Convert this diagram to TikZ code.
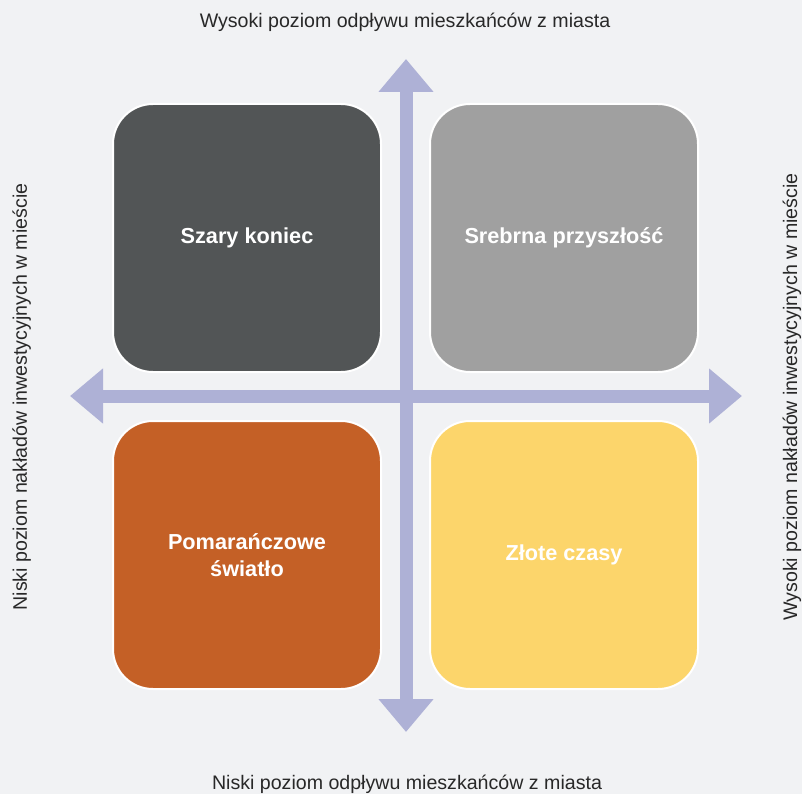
\documentclass[tikz,border=0pt]{standalone}
\usepackage{fontspec}
\setmainfont{Liberation Sans}
\usepackage{xcolor}
\usetikzlibrary{arrows.meta,positioning}
\definecolor{bgcolor}{RGB}{241,242,244}
\definecolor{axiscolor}{RGB}{174,177,214}
\definecolor{darkgraycolor}{RGB}{82,85,86}
\definecolor{lightgraycolor}{RGB}{160,160,160}
\definecolor{orangecolor}{RGB}{196,96,38}
\definecolor{goldcolor}{RGB}{252,213,107}
\definecolor{labelcolor}{RGB}{40,40,40}

\begin{document}
\begin{tikzpicture}[
    x=1pt, y=-1pt,
    node distance=49pt,
    quad/.style={rectangle, draw=white, line width=2pt, rounded corners=40pt, minimum width=268pt, minimum height=268pt, outer sep=0pt, text=white, align=center, font=\fontsize{21.7}{27}\selectfont\bfseries},
    axis/.style={{Triangle[length=33pt,width=53pt]}-{Triangle[length=33pt,width=53pt]}, line width=13pt, draw=axiscolor},
    axislabel/.style={font=\fontsize{19.6}{23}\selectfont, text=labelcolor, inner sep=0pt, anchor=base}
]
\fill[bgcolor] (0,0) rectangle (802,794);
\useasboundingbox (0,0) rectangle (802,794);

\coordinate (top) at (406,59);
\coordinate (bottom) at (406,732);
\coordinate (left) at (70,396);
\coordinate (right) at (742,396);

\draw[axis] (left) -- (right);
\draw[axis] (bottom) -- (top);

\node[quad, fill=darkgraycolor] (szary) at (247,238) {Szary koniec};
\node[quad, fill=lightgraycolor, right=of szary] (srebrna) {Srebrna przyszłość};
\node[quad, fill=orangecolor, below=of szary] (pomaranczowe) {Pomarańczowe\\światło};
\node[quad, fill=goldcolor, below=of srebrna] (zlote) {Złote czasy};

\node[axislabel] (toplabel) at (405,28) {Wysoki poziom odpływu mieszkańców z miasta};
\node[axislabel] (bottomlabel) at (407,789) {Niski poziom odpływu mieszkańców z miasta};
\node[axislabel, rotate=90] (leftlabel) at (27,397) {Niski poziom nakładów inwestycyjnych w mieście};
\node[axislabel, rotate=90] (rightlabel) at (797,397) {Wysoki poziom nakładów inwestycyjnych w mieście};
\end{tikzpicture}
\end{document}
